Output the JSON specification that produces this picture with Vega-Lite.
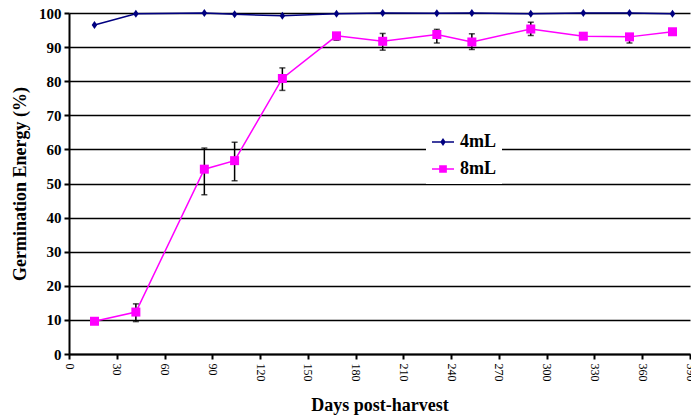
{
  "$schema": "https://vega.github.io/schema/vega-lite/v6.json",
  "width": 621,
  "height": 341,
  "autosize": "none",
  "padding": {"left": 69, "top": 13, "right": 1, "bottom": 66},
  "background": "white",
  "config": {
    "view": {"stroke": null},
    "font": "Liberation Serif",
    "axisY": {
      "labelFontSize": 15,
      "labelFontWeight": "bold",
      "labelColor": "black",
      "labelPadding": 3,
      "grid": true,
      "gridColor": "black",
      "gridWidth": 1.5,
      "domainColor": "black",
      "domainWidth": 2,
      "tickColor": "black",
      "tickWidth": 2,
      "tickSize": 5,
      "titleFontSize": 18,
      "titleFontWeight": "bold",
      "titleColor": "black",
      "titlePadding": 9
    }
  },
  "datasets": {
    "series": [
      {"day": 16, "value": 96.5, "series": "4mL"},
      {"day": 42, "value": 99.8, "series": "4mL"},
      {"day": 85, "value": 100, "series": "4mL"},
      {"day": 104, "value": 99.6, "series": "4mL"},
      {"day": 134, "value": 99.2, "series": "4mL"},
      {"day": 168, "value": 99.8, "series": "4mL"},
      {"day": 197, "value": 100, "series": "4mL"},
      {"day": 231, "value": 99.9, "series": "4mL"},
      {"day": 253, "value": 100, "series": "4mL"},
      {"day": 290, "value": 99.8, "series": "4mL"},
      {"day": 323, "value": 100, "series": "4mL"},
      {"day": 352, "value": 100, "series": "4mL"},
      {"day": 379, "value": 99.8, "series": "4mL"},
      {"day": 16, "value": 9.6, "series": "8mL"},
      {"day": 42, "value": 12.3, "series": "8mL"},
      {"day": 85, "value": 54.2, "series": "8mL"},
      {"day": 104, "value": 56.7, "series": "8mL"},
      {"day": 134, "value": 80.8, "series": "8mL"},
      {"day": 168, "value": 93.3, "series": "8mL"},
      {"day": 197, "value": 91.7, "series": "8mL"},
      {"day": 231, "value": 93.7, "series": "8mL"},
      {"day": 253, "value": 91.5, "series": "8mL"},
      {"day": 290, "value": 95.3, "series": "8mL"},
      {"day": 323, "value": 93.2, "series": "8mL"},
      {"day": 352, "value": 93, "series": "8mL"},
      {"day": 379, "value": 94.5, "series": "8mL"}
    ],
    "err": [
      {"day": 42, "lo": 9.5, "hi": 14.7},
      {"day": 85, "lo": 46.7, "hi": 60.4},
      {"day": 104, "lo": 50.8, "hi": 62.1},
      {"day": 134, "lo": 77.3, "hi": 83.9},
      {"day": 168, "lo": 92, "hi": 94.2},
      {"day": 197, "lo": 89.1, "hi": 94},
      {"day": 231, "lo": 91.2, "hi": 95.2},
      {"day": 253, "lo": 89.3, "hi": 93.9},
      {"day": 290, "lo": 93.4, "hi": 97.3},
      {"day": 352, "lo": 91.2, "hi": 93.6}
    ]
  },
  "encoding": {
    "x": {
      "field": "day",
      "type": "quantitative",
      "scale": {"domain": [0, 390], "nice": false, "zero": false},
      "axis": {
        "values": [0, 30, 60, 90, 120, 150, 180, 210, 240, 270, 300, 330, 360, 390],
        "labelAngle": 90,
        "labelFontSize": 12,
        "labelColor": "black",
        "labelPadding": 4,
        "grid": false,
        "domainColor": "black",
        "domainWidth": 2,
        "tickColor": "black",
        "tickWidth": 2,
        "tickSize": 5,
        "title": "Days post-harvest",
        "titleFontSize": 18,
        "titleFontWeight": "bold",
        "titleColor": "black",
        "titlePadding": 15
      }
    }
  },
  "layer": [
    {
      "data": {"name": "series"},
      "mark": {"type": "line", "strokeWidth": 1.5},
      "encoding": {
        "y": {
          "field": "value",
          "type": "quantitative",
          "title": "Germination Energy (%)",
          "scale": {"domain": [0, 100], "nice": false},
          "axis": {"values": [0, 10, 20, 30, 40, 50, 60, 70, 80, 90, 100], "tickCount": 11}
        },
        "color": {
          "field": "series",
          "type": "nominal",
          "scale": {"domain": ["4mL", "8mL"], "range": ["#000080", "#FF00FF"]},
          "legend": {
            "title": null,
            "orient": "none",
            "legendX": 357,
            "legendY": 112,
            "fillColor": "white",
            "padding": 6,
            "symbolSize": 484,
            "rowPadding": 7,
            "labelFontSize": 18,
            "labelFontWeight": "bold",
            "labelColor": "black",
            "labelOffset": 6,
            "encode": {
              "symbols": {
                "update": {
                  "shape": {"signal": "datum.value === '4mL' ? 'M-1,-0.07H1V0.07H-1ZM-0.25,0L0,-0.36L0.25,0L0,0.36Z' : 'M-1,-0.07H1V0.07H-1ZM-0.35,-0.35H0.35V0.35H-0.35Z'"},
                  "size": {"value": 484},
                  "fill": {"scale": "color", "field": "value"},
                  "fillOpacity": {"value": 1},
                  "strokeWidth": {"value": 0},
                  "opacity": {"value": 1}
                }
              }
            }
          }
        }
      }
    },
    {
      "data": {"name": "err"},
      "mark": {"type": "rule", "color": "black", "strokeWidth": 1.5},
      "encoding": {
        "y": {"field": "lo", "type": "quantitative", "title": "Germination Energy (%)", "axis": {"values": [0, 10, 20, 30, 40, 50, 60, 70, 80, 90, 100], "tickCount": 11}},
        "y2": {"field": "hi"}
      }
    },
    {
      "data": {"name": "err"},
      "mark": {"type": "tick", "color": "black", "orient": "horizontal", "size": 6, "thickness": 1.5},
      "encoding": {
        "y": {"field": "lo", "type": "quantitative", "title": "Germination Energy (%)", "axis": {"values": [0, 10, 20, 30, 40, 50, 60, 70, 80, 90, 100], "tickCount": 11}}
      }
    },
    {
      "data": {"name": "err"},
      "mark": {"type": "tick", "color": "black", "orient": "horizontal", "size": 6, "thickness": 1.5},
      "encoding": {
        "y": {"field": "hi", "type": "quantitative", "title": "Germination Energy (%)", "axis": {"values": [0, 10, 20, 30, 40, 50, 60, 70, 80, 90, 100], "tickCount": 11}}
      }
    },
    {
      "data": {"name": "series"},
      "transform": [{"filter": "datum.series === '4mL'"}],
      "mark": {"type": "point", "filled": true, "opacity": 1, "shape": "M0,-1L0.7,0L0,1L-0.7,0Z", "size": 64},
      "encoding": {
        "y": {"field": "value", "type": "quantitative", "title": "Germination Energy (%)", "axis": {"values": [0, 10, 20, 30, 40, 50, 60, 70, 80, 90, 100], "tickCount": 11}},
        "color": {"field": "series", "type": "nominal"}
      }
    },
    {
      "data": {"name": "series"},
      "transform": [{"filter": "datum.series === '8mL'"}],
      "mark": {"type": "point", "filled": true, "opacity": 1, "shape": "square", "size": 81},
      "encoding": {
        "y": {"field": "value", "type": "quantitative", "title": "Germination Energy (%)", "axis": {"values": [0, 10, 20, 30, 40, 50, 60, 70, 80, 90, 100], "tickCount": 11}},
        "color": {"field": "series", "type": "nominal"}
      }
    }
  ]
}
